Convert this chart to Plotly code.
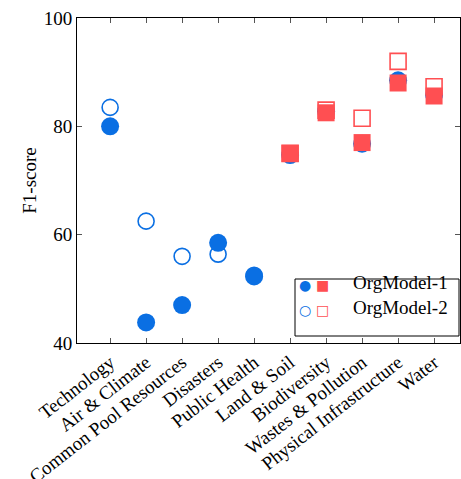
import plotly.graph_objects as go

categories = ["Technology", "Air & Climate", "Common Pool Resources", "Disasters",
              "Public Health", "Land & Soil", "Biodiversity", "Wastes & Pollution",
              "Physical Infrastructure", "Water"]

# blue circles (all categories for model 1; first five for model 2)
blue_m1 = [80.0, 43.8, 47.0, 58.5, 52.3, 74.7, 82.8, 76.8, 88.5, 85.8]
blue_m2_cats = categories[:5]
blue_m2 = [83.5, 62.5, 56.0, 56.4, 52.5]

# red squares (last five categories)
red_cats = categories[5:]
red_m1 = [75.0, 82.5, 77.0, 88.0, 85.6]
red_m2 = [75.0, 83.0, 81.5, 92.0, 87.3]

legend_labels = ["OrgModel-1", "OrgModel-2"]
yticks = [40, 60, 80, 100]

BLUE = "#0A6FE3"
RED = "#FF4F52"
FONT = "Liberation Serif"

# plot area in page pixels: x 77..460, y 18..343 (body margin removed below)
L, R, T, B = 77, 460, 18, 343
W, H = 461, 479

fig = go.Figure()
fig.add_trace(go.Scatter(x=blue_m2_cats, y=blue_m2, mode="markers",
                         marker=dict(symbol="circle-open", size=16, color=BLUE,
                                     line=dict(width=1.6, color=BLUE)),
                         showlegend=False, cliponaxis=False))
fig.add_trace(go.Scatter(x=categories, y=blue_m1, mode="markers",
                         marker=dict(symbol="circle", size=18, color=BLUE,
                                     line=dict(width=0)),
                         showlegend=False, cliponaxis=False))
fig.add_trace(go.Scatter(x=red_cats, y=red_m2, mode="markers",
                         marker=dict(symbol="square", size=16, color="white",
                                     line=dict(width=1.6, color=RED)),
                         showlegend=False, cliponaxis=False))
fig.add_trace(go.Scatter(x=red_cats, y=red_m1, mode="markers",
                         marker=dict(symbol="square", size=17, color=RED,
                                     line=dict(width=0)),
                         showlegend=False, cliponaxis=False))

fig.update_layout(
    width=W, height=H,
    margin=dict(l=L, r=W - R, t=T, b=H - B, autoexpand=False),
    plot_bgcolor="white", paper_bgcolor="white",
    font=dict(family=FONT, size=19, color="black"),
    xaxis=dict(type="category", categoryorder="array", categoryarray=categories,
               range=[-0.92, 9.72], tickangle=-38, ticks="inside", ticklen=5,
               tickcolor="#555", showline=True, linecolor="black", linewidth=1,
               mirror="allticks", showgrid=False, zeroline=False, automargin=False,
               ticklabeloverflow="allow",
               tickfont=dict(family=FONT, size=19)),
    yaxis=dict(range=[40, 100], tickvals=yticks, ticks="inside", ticklen=5,
               tickcolor="#555", showline=True, linecolor="black", linewidth=1,
               mirror="allticks", showgrid=False, zeroline=False, automargin=False,
               ticklabeloverflow="allow",
               tickfont=dict(family=FONT, size=19),
               title=dict(text="F1-score", font=dict(family=FONT, size=19), standoff=2)),
)

def px(x):
    return (x - L) / (R - L)

def py(y):
    return (B - y) / (B - T)

# legend box
fig.add_shape(type="rect", xref="paper", yref="paper",
              x0=px(295), x1=px(459), y0=py(336), y1=py(279),
              line=dict(color="black", width=1), fillcolor="white", layer="above")
rows = [(py(295), "●", "■", legend_labels[0]),
        (py(320), "○", "□", legend_labels[1])]
for yy, c, s, lab in rows:
    fig.add_annotation(xref="paper", yref="paper", x=px(305), y=yy,
                       text=c, showarrow=False, font=dict(family="DejaVu Sans", size=14, color=BLUE))
    fig.add_annotation(xref="paper", yref="paper", x=px(322), y=yy,
                       text=s, showarrow=False, font=dict(family="DejaVu Sans", size=14, color=RED))
    fig.add_annotation(xref="paper", yref="paper", x=px(450), y=yy,
                       text=lab, showarrow=False, xanchor="right",
                       font=dict(family=FONT, size=19, color="black"))

fig.write_html("out.html", config={"displayModeBar": False},
               post_script="document.body.style.margin='0';document.body.style.overflow='hidden';")
